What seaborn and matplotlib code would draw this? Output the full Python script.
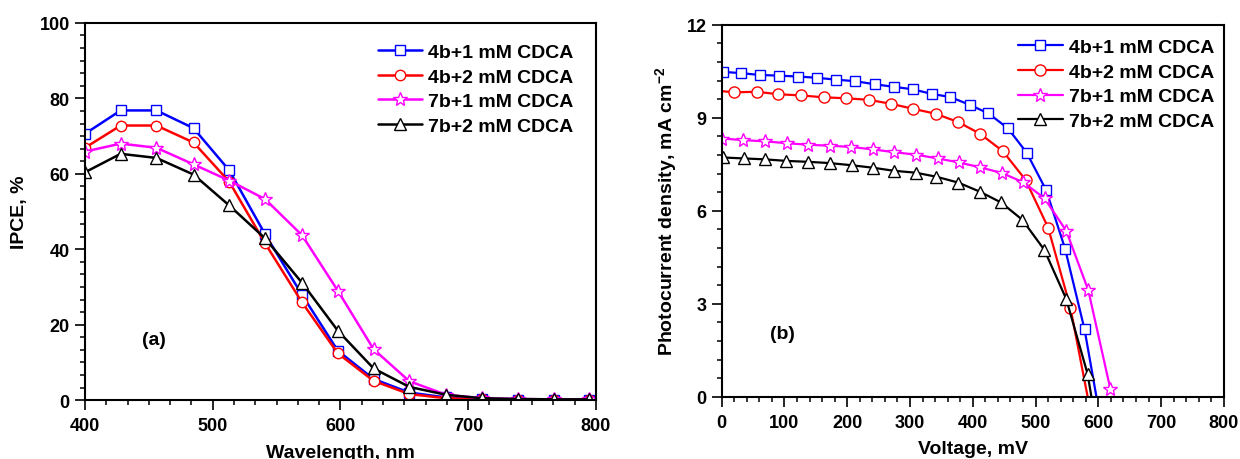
import numpy as np
import pandas as pd
import matplotlib
matplotlib.use("Agg")
import matplotlib.pyplot as plt
from matplotlib.ticker import MultipleLocator, AutoMinorLocator
import seaborn as sns

# ---- series definitions ----
series_names = ["4b+1 mM CDCA", "4b+2 mM CDCA", "7b+1 mM CDCA", "7b+2 mM CDCA"]
series_colors = ["#0000FF", "#FF0000", "#FF00FF", "#000000"]
series_markers = ["s", "o", "*", "^"]
series_msize = [7, 7.5, 10, 8]

# ---- (a) IPCE spectra ----
wavelength = [400, 428, 456, 485, 513, 541, 570, 598, 626, 654, 683, 711, 739, 767, 795]
ipce_4b_1 = [70.6, 76.8, 76.8, 72.1, 60.9, 44.0, 27.9, 13.1, 5.6, 2.0, 0.7, 0.3, 0.1, 0.1, 0.1]
ipce_4b_2 = [66.9, 72.8, 72.8, 68.3, 57.9, 41.6, 25.9, 12.4, 5.1, 1.6, 0.5, 0.2, 0.1, 0.1, 0.1]
ipce_7b_1 = [65.9, 68.0, 66.9, 62.5, 58.2, 53.3, 43.7, 29.0, 13.5, 5.0, 1.4, 0.5, 0.3, 0.2, 0.2]
ipce_7b_2 = [60.4, 65.3, 64.2, 59.8, 51.6, 42.9, 31.1, 18.4, 8.4, 3.5, 1.4, 0.5, 0.3, 0.2, 0.2]

# ---- (b) J-V curves (last point of some curves is the open-circuit end, no marker) ----
v_4b_1 = [2.5, 31.5, 60.5, 91, 122, 152, 182, 213, 244, 274, 304, 335, 364, 395, 425,
          456, 486, 517, 547, 578, 597]
j_4b_1 = [10.48, 10.44, 10.38, 10.36, 10.33, 10.29, 10.23, 10.18, 10.08, 10.00, 9.92,
          9.77, 9.67, 9.42, 9.14, 8.66, 7.87, 6.66, 4.78, 2.18, 0.0]
v_4b_2 = [0, 20, 55.5, 90, 127, 163, 198, 234, 270, 305, 341, 377, 412, 448, 484, 520,
          555.5, 583]
j_4b_2 = [9.86, 9.82, 9.84, 9.76, 9.72, 9.66, 9.63, 9.58, 9.45, 9.29, 9.13, 8.86, 8.48,
          7.92, 7.00, 5.46, 2.88, 0.0]
v_7b_1 = [1.3, 34.7, 69.4, 103.4, 138, 172, 206, 241, 275, 310, 344, 378, 412, 446.5,
          480.5, 514.5, 549, 584, 619]
j_7b_1 = [8.33, 8.28, 8.24, 8.18, 8.13, 8.10, 8.06, 7.98, 7.89, 7.81, 7.69, 7.56, 7.40,
          7.22, 6.92, 6.40, 5.35, 3.44, 0.27]
v_7b_2 = [2.5, 35, 69, 103, 138, 172, 207, 241, 275, 309, 342, 377, 411, 445, 479, 514,
          549, 583, 589]
j_7b_2 = [7.72, 7.69, 7.66, 7.61, 7.58, 7.54, 7.47, 7.39, 7.29, 7.23, 7.10, 6.91, 6.62,
          6.27, 5.71, 4.74, 3.15, 0.73, 0.0]

# which points carry a marker in (b)
marks_b = [
    list(range(len(v_4b_1) - 1)),
    list(range(1, len(v_4b_2) - 1)),
    list(range(len(v_7b_1))),
    list(range(len(v_7b_2) - 1)),
]

sns.set_style("ticks")
plt.rcParams.update({
    "font.family": ["Liberation Sans", "DejaVu Sans"],
    "font.weight": "bold",
    "axes.labelweight": "bold",
    "text.color": "black",
    "axes.labelcolor": "black",
    "mathtext.fontset": "custom",
    "mathtext.rm": "Liberation Sans:bold",
    "mathtext.bf": "Liberation Sans:bold",
    "mathtext.default": "bf",
    "axes.linewidth": 1.5,
    "axes.edgecolor": "black",
    "xtick.direction": "out",
    "ytick.direction": "out",
    "xtick.major.size": 7,
    "ytick.major.size": 7,
    "xtick.minor.size": 3.5,
    "ytick.minor.size": 3.5,
    "xtick.major.width": 1.2,
    "ytick.major.width": 1.2,
    "xtick.minor.width": 1.1,
    "ytick.minor.width": 1.1,
    "xtick.color": "black",
    "ytick.color": "black",
    "xtick.labelcolor": "black",
    "ytick.labelcolor": "black",
})

fig = plt.figure(figsize=(12.4, 4.6), dpi=100)
ax_a = fig.add_axes([0.0685, 0.128, 0.412, 0.820])
ax_b = fig.add_axes([0.582, 0.135, 0.405, 0.809])

ipce_sets = [ipce_4b_1, ipce_4b_2, ipce_7b_1, ipce_7b_2]
for name, vals, col, mk, ms in zip(series_names, ipce_sets, series_colors,
                                   series_markers, series_msize):
    df = pd.DataFrame({"wavelength": wavelength, "ipce": vals})
    sns.lineplot(data=df, x="wavelength", y="ipce", ax=ax_a, color=col, lw=1.8,
                 marker=mk, markersize=ms, markerfacecolor="white",
                 markeredgecolor=col, markeredgewidth=1.0, label=name,
                 estimator=None, sort=False)

jv_sets = [(v_4b_1, j_4b_1), (v_4b_2, j_4b_2), (v_7b_1, j_7b_1), (v_7b_2, j_7b_2)]
for name, (vv, jj), col, mk, ms, me in zip(series_names, jv_sets, series_colors,
                                           series_markers, series_msize, marks_b):
    df = pd.DataFrame({"voltage": vv, "current": jj})
    sns.lineplot(data=df, x="voltage", y="current", ax=ax_b, color=col, lw=1.6,
                 marker=mk, markersize=ms + 0.5, markerfacecolor="white",
                 markeredgecolor=col, markeredgewidth=1.0, markevery=me,
                 label=name, estimator=None, sort=False)

# ---- axes styling ----
ax_a.set_xlim(400, 800)
ax_a.set_ylim(0, 100)
ax_a.xaxis.set_major_locator(MultipleLocator(100))
ax_a.yaxis.set_major_locator(MultipleLocator(20))
ax_a.xaxis.set_minor_locator(AutoMinorLocator(6))
ax_a.yaxis.set_minor_locator(AutoMinorLocator(6))
ax_a.set_xlabel("Wavelength, nm", fontsize=14, fontweight="bold", labelpad=7)
ax_a.set_ylabel("IPCE, %", fontsize=14, fontweight="bold", labelpad=8)
ax_a.text(454, 16.2, "(a)", fontsize=14, fontweight="bold", ha="center", va="center")

ax_b.set_xlim(0, 800)
ax_b.set_ylim(0, 12)
ax_b.xaxis.set_major_locator(MultipleLocator(100))
ax_b.yaxis.set_major_locator(MultipleLocator(3))
ax_b.xaxis.set_minor_locator(AutoMinorLocator(5))
ax_b.yaxis.set_minor_locator(AutoMinorLocator(5))
ax_b.set_xlabel("Voltage, mV", fontsize=14, fontweight="bold", labelpad=7)
ax_b.set_ylabel("Photocurrent density, mA cm$^{-2}$", fontsize=14,
                fontweight="bold", labelpad=5)
ax_b.text(97, 2.03, "(b)", fontsize=14, fontweight="bold", ha="center", va="center")

for ax in (ax_a, ax_b):
    for s in ax.spines.values():
        s.set_visible(True)
        s.set_linewidth(1.5)
        s.set_color("black")
    ax.tick_params(which="both", top=False, right=False, labelsize=13,
                   labelcolor="black")
    ax.tick_params(axis="x", pad=5)
    ax.tick_params(axis="y", pad=4)
    for lbl in ax.get_xticklabels() + ax.get_yticklabels():
        lbl.set_fontweight("bold")
    ax.grid(False)

leg_a = ax_a.legend(loc="upper left", bbox_to_anchor=(0.573, 0.946), frameon=False,
                    fontsize=14, handlelength=2.3, handletextpad=0.3,
                    labelspacing=0.36, borderpad=0, borderaxespad=0)
leg_b = ax_b.legend(loc="upper left", bbox_to_anchor=(0.590, 0.963), frameon=False,
                    fontsize=14, handlelength=2.3, handletextpad=0.3,
                    labelspacing=0.36, borderpad=0, borderaxespad=0)
for leg in (leg_a, leg_b):
    for t in leg.get_texts():
        t.set_fontweight("bold")
        t.set_color("black")

fig.savefig("out.png", dpi=100)
